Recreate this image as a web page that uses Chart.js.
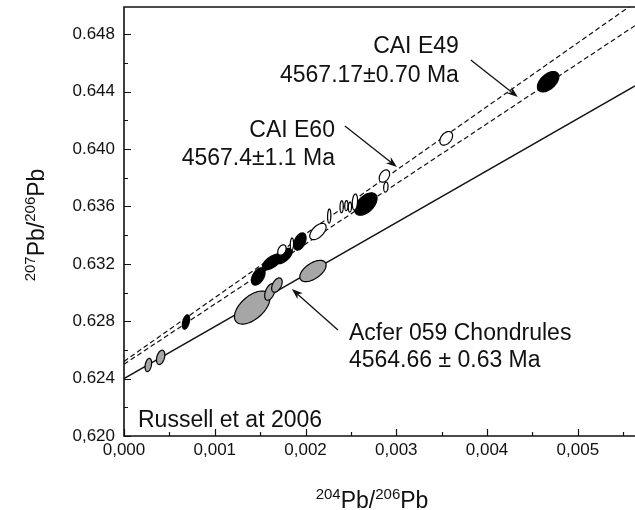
<!DOCTYPE html>
<html>
<head>
<meta charset="utf-8">
<script src="https://cdn.jsdelivr.net/npm/chart.js@4.4.0/dist/chart.umd.min.js"></script>
<style>
  html, body { margin: 0; padding: 0; background: #fff; }
</style>
</head>
<body>
<canvas id="myChart" width="635" height="510"></canvas>
<script>
// tick labels (the figure mixes comma and point decimals)
const xTicks = [0, 0.001, 0.002, 0.003, 0.004, 0.005];
const xTickLabels = ['0,000', '0,001', '0,002', '0,003', '0,004', '0,005'];
const yTicks = [0.620, 0.624, 0.628, 0.632, 0.636, 0.640, 0.644, 0.648];
const yTickLabels = ['0,620', '0.624', '0.628', '0.632', '0.636', '0.640', '0.644', '0.648'];

// Acfer 059 chondrules (grey error ellipses)
const chondX = [0.000268, 0.000404, 0.001412, 0.001608, 0.001685, 0.002082];
const chondY = [0.62495, 0.62548, 0.62895, 0.63004, 0.63052, 0.63150];
const chondEx = [0.000036, 0.000046, 0.000195, 0.000058, 0.000058, 0.000145];
const chondEy = [0.00046, 0.00050, 0.00115, 0.00058, 0.00050, 0.00074];
const chondRho = [0.3, 0.35, 0.55, 0.45, 0.45, 0.55];

// CAI fractions, filled ellipses
const caiFillX = [0.000683, 0.001479, 0.00163, 0.001762, 0.001938, 0.002665, 0.004673];
const caiFillY = [0.627945, 0.631116, 0.632126, 0.632544, 0.633555, 0.636168, 0.644691];
const caiFillEx = [0.000040, 0.000075, 0.000105, 0.000092, 0.000068, 0.000123, 0.000118];
const caiFillEy = [0.000500, 0.000600, 0.000540, 0.000540, 0.000600, 0.000780, 0.000710];
const caiFillRho = [0.4, 0.45, 0.6, 0.6, 0.4, 0.5, 0.5];

// CAI fractions, open ellipses
const caiOpenX = [0.00174, 0.00185, 0.002137, 0.002261, 0.002398, 0.00245, 0.002489, 0.002544, 0.002869, 0.002885, 0.00355];
const caiOpenY = [0.632962, 0.63338, 0.634252, 0.635332, 0.63598, 0.636063, 0.635959, 0.636307, 0.638119, 0.637352, 0.640747];
const caiOpenEx = [0.000046, 0.000018, 0.000090, 0.000018, 0.000018, 0.000018, 0.000018, 0.000029, 0.000057, 0.000024, 0.000070];
const caiOpenEy = [0.000360, 0.000420, 0.000570, 0.000490, 0.000420, 0.000350, 0.000350, 0.000560, 0.000430, 0.000350, 0.000475];
const caiOpenRho = [0.35, 0.1, 0.55, 0.1, 0.1, 0.1, 0.1, 0.2, 0.35, 0.15, 0.4];

// isochrons (ends of each line)
const isoX = [0, 0.00563];
const e60LineY = [0.6252, 0.6502];
const e49LineY = [0.6250, 0.6486];
const chondLineY = [0.6240, 0.6444];

// notes: [text, x, y, align]
const notes = [
  ['CAI E49', 0.003689, 0.646691, 'right'],
  ['4567.17±0.70 Ma', 0.003689, 0.64467, 'right'],
  ['CAI E60', 0.002324, 0.640837, 'right'],
  ['4567.4±1.1 Ma', 0.002324, 0.638886, 'right'],
  ['Acfer 059 Chondrules', 0.002478, 0.62669, 'left'],
  ['4564.66 ± 0.63 Ma', 0.002478, 0.624809, 'left'],
  ['Russell et at 2006', 0.000154, 0.620627, 'left']
];
// arrows: [x0, y0, x1 (tip), y1 (tip)]
const arrows = [
  [0.003821, 0.646203, 0.004339, 0.643625],
  [0.002434, 0.641604, 0.003007, 0.638747],
  [0.002357, 0.627387, 0.00185, 0.630244]
];

const FONT = '"Liberation Sans", Arial, Helvetica, sans-serif';
const INK = '#111';

function pts(xs, ys) {
  return xs.map((x, i) => ({x: x, y: ys[i]}));
}
function ellipses(xs, ys, ex, ey, rho) {
  return xs.map((x, i) => ({x: x, y: ys[i], ex: ex[i], ey: ey[i], r: rho[i]}));
}

const ellipsePlugin = {
  id: 'ellipses',
  afterDatasetsDraw(chart) {
    const ctx = chart.ctx;
    const xs = chart.scales.x, ys = chart.scales.y;
    const area = chart.chartArea;
    ctx.save();
    ctx.beginPath();
    ctx.rect(area.left, area.top, area.right - area.left, area.bottom - area.top);
    ctx.clip();
    chart.data.datasets.forEach((ds, di) => {
      if (!ds.ellipse) return;
      const meta = chart.getDatasetMeta(di);
      meta.data.forEach((el, i) => {
        const d = ds.data[i];
        const a = xs.getPixelForValue(d.x + d.ex) - el.x;
        const b = el.y - ys.getPixelForValue(d.y + d.ey);
        const s = Math.sqrt(1 - d.r * d.r);
        ctx.beginPath();
        for (let k = 0; k <= 72; k++) {
          const t = k / 72 * Math.PI * 2;
          const px = el.x + a * Math.cos(t);
          const py = el.y - b * (d.r * Math.cos(t) + s * Math.sin(t));
          if (k === 0) ctx.moveTo(px, py); else ctx.lineTo(px, py);
        }
        ctx.closePath();
        ctx.fillStyle = ds.ellipse.fill;
        ctx.fill();
        ctx.lineWidth = 1.2;
        ctx.strokeStyle = '#000';
        ctx.stroke();
      });
    });
    ctx.restore();
  }
};

function drawPbLabel(ctx, cx, baseY, sup1, sup2) {
  const big = '23px ' + FONT, small = '15px ' + FONT;
  const parts = [[sup1, small, -9], ['Pb/', big, 0], [sup2, small, -9], ['Pb', big, 0]];
  let w = 0;
  parts.forEach(p => { ctx.font = p[1]; w += ctx.measureText(p[0]).width; });
  let x = cx - w / 2;
  ctx.textAlign = 'left';
  ctx.textBaseline = 'alphabetic';
  parts.forEach(p => {
    ctx.font = p[1];
    ctx.fillText(p[0], x, baseY + p[2]);
    x += ctx.measureText(p[0]).width;
  });
}

const framePlugin = {
  id: 'frame',
  beforeDraw(chart) {
    const ctx = chart.ctx;
    ctx.save();
    ctx.fillStyle = '#fff';
    ctx.fillRect(0, 0, chart.width, chart.height);
    ctx.restore();
  },
  afterDraw(chart) {
    const ctx = chart.ctx;
    const xs = chart.scales.x, ys = chart.scales.y;
    const a = chart.chartArea;
    ctx.save();
    ctx.strokeStyle = INK;
    ctx.fillStyle = INK;

    // inward ticks
    ctx.lineWidth = 1.2;
    ctx.beginPath();
    for (let v = 0; v <= 0.0056; v += 0.0005) {
      const major = Math.abs(v / 0.001 - Math.round(v / 0.001)) < 1e-6;
      const px = Math.round(xs.getPixelForValue(v)) + 0.5;
      ctx.moveTo(px, a.bottom);
      ctx.lineTo(px, a.bottom - (major ? 7 : 4));
    }
    for (let v = 0.620; v <= 0.6495; v += 0.002) {
      const major = Math.abs((v - 0.620) / 0.004 - Math.round((v - 0.620) / 0.004)) < 1e-6;
      const py = Math.round(ys.getPixelForValue(v)) + 0.5;
      ctx.moveTo(a.left, py);
      ctx.lineTo(a.left + (major ? 7 : 4), py);
    }
    ctx.stroke();

    // frame: left, bottom, top
    ctx.lineWidth = 1.6;
    ctx.beginPath();
    ctx.moveTo(a.right, a.top);
    ctx.lineTo(a.left, a.top);
    ctx.lineTo(a.left, a.bottom);
    ctx.lineTo(a.right, a.bottom);
    ctx.stroke();

    // arrows
    ctx.lineWidth = 1.3;
    arrows.forEach(r => {
      const x0 = xs.getPixelForValue(r[0]), y0 = ys.getPixelForValue(r[1]);
      const x1 = xs.getPixelForValue(r[2]), y1 = ys.getPixelForValue(r[3]);
      const ang = Math.atan2(y1 - y0, x1 - x0);
      const hl = 11, hw = 4;
      ctx.beginPath();
      ctx.moveTo(x0, y0);
      ctx.lineTo(x1 - hl * 0.7 * Math.cos(ang), y1 - hl * 0.7 * Math.sin(ang));
      ctx.stroke();
      ctx.beginPath();
      ctx.moveTo(x1, y1);
      ctx.lineTo(x1 - hl * Math.cos(ang) + hw * Math.sin(ang), y1 - hl * Math.sin(ang) - hw * Math.cos(ang));
      ctx.lineTo(x1 - hl * 0.7 * Math.cos(ang), y1 - hl * 0.7 * Math.sin(ang));
      ctx.lineTo(x1 - hl * Math.cos(ang) - hw * Math.sin(ang), y1 - hl * Math.sin(ang) + hw * Math.cos(ang));
      ctx.closePath();
      ctx.fill();
    });

    // notes
    ctx.font = '23px ' + FONT;
    ctx.textBaseline = 'alphabetic';
    notes.forEach(n => {
      ctx.textAlign = n[3];
      ctx.fillText(n[0], xs.getPixelForValue(n[1]), ys.getPixelForValue(n[2]));
    });

    // axis titles
    drawPbLabel(ctx, 372, 508, '204', '206');
    ctx.translate(44, 225);
    ctx.rotate(-Math.PI / 2);
    drawPbLabel(ctx, 0, 0, '207', '206');
    ctx.restore();
  }
};

const lineStyle = {showLine: true, pointRadius: 0, borderColor: INK, fill: false};

new Chart(document.getElementById('myChart'), {
  type: 'scatter',
  data: {
    datasets: [
      Object.assign({label: 'CAI E60 isochron', data: pts(isoX, e60LineY), borderWidth: 1.2, borderDash: [5, 3]}, lineStyle),
      Object.assign({label: 'CAI E49 isochron', data: pts(isoX, e49LineY), borderWidth: 1.2, borderDash: [5, 3]}, lineStyle),
      Object.assign({label: 'Acfer 059 isochron', data: pts(isoX, chondLineY), borderWidth: 1.3}, lineStyle),
      {label: 'Acfer 059 chondrules', data: ellipses(chondX, chondY, chondEx, chondEy, chondRho), pointRadius: 0, ellipse: {fill: '#a6a6a6'}},
      {label: 'CAI filled', data: ellipses(caiFillX, caiFillY, caiFillEx, caiFillEy, caiFillRho), pointRadius: 0, ellipse: {fill: '#000'}},
      {label: 'CAI open', data: ellipses(caiOpenX, caiOpenY, caiOpenEx, caiOpenEy, caiOpenRho), pointRadius: 0, ellipse: {fill: '#fff'}}
    ]
  },
  options: {
    responsive: false,
    animation: false,
    devicePixelRatio: 1,
    layout: {padding: {top: 7, right: 0, bottom: 0, left: 0}},
    plugins: {legend: {display: false}, tooltip: {enabled: false}},
    scales: {
      x: {
        type: 'linear', min: 0, max: 0.00563,
        grid: {display: false, drawTicks: false},
        border: {display: false},
        afterBuildTicks: s => { s.ticks = xTicks.map(v => ({value: v})); },
        ticks: {
          callback: (v, i) => xTickLabels[i],
          font: {family: FONT, size: 17}, color: INK, padding: 4,
          maxRotation: 0, autoSkip: false
        },
        afterFit: s => { s.height = 74; s.paddingLeft = 0; s.paddingRight = 0; }
      },
      y: {
        type: 'linear', min: 0.620, max: 0.6499,
        grid: {display: false, drawTicks: false},
        border: {display: false},
        afterBuildTicks: s => { s.ticks = yTicks.map(v => ({value: v})); },
        ticks: {
          callback: (v, i) => yTickLabels[i],
          font: {family: FONT, size: 17}, color: INK, padding: 9,
          autoSkip: false
        },
        afterFit: s => { s.width = 124; s.paddingTop = 0; s.paddingBottom = 0; }
      }
    }
  },
  plugins: [ellipsePlugin, framePlugin]
});
</script>
</body>
</html>
